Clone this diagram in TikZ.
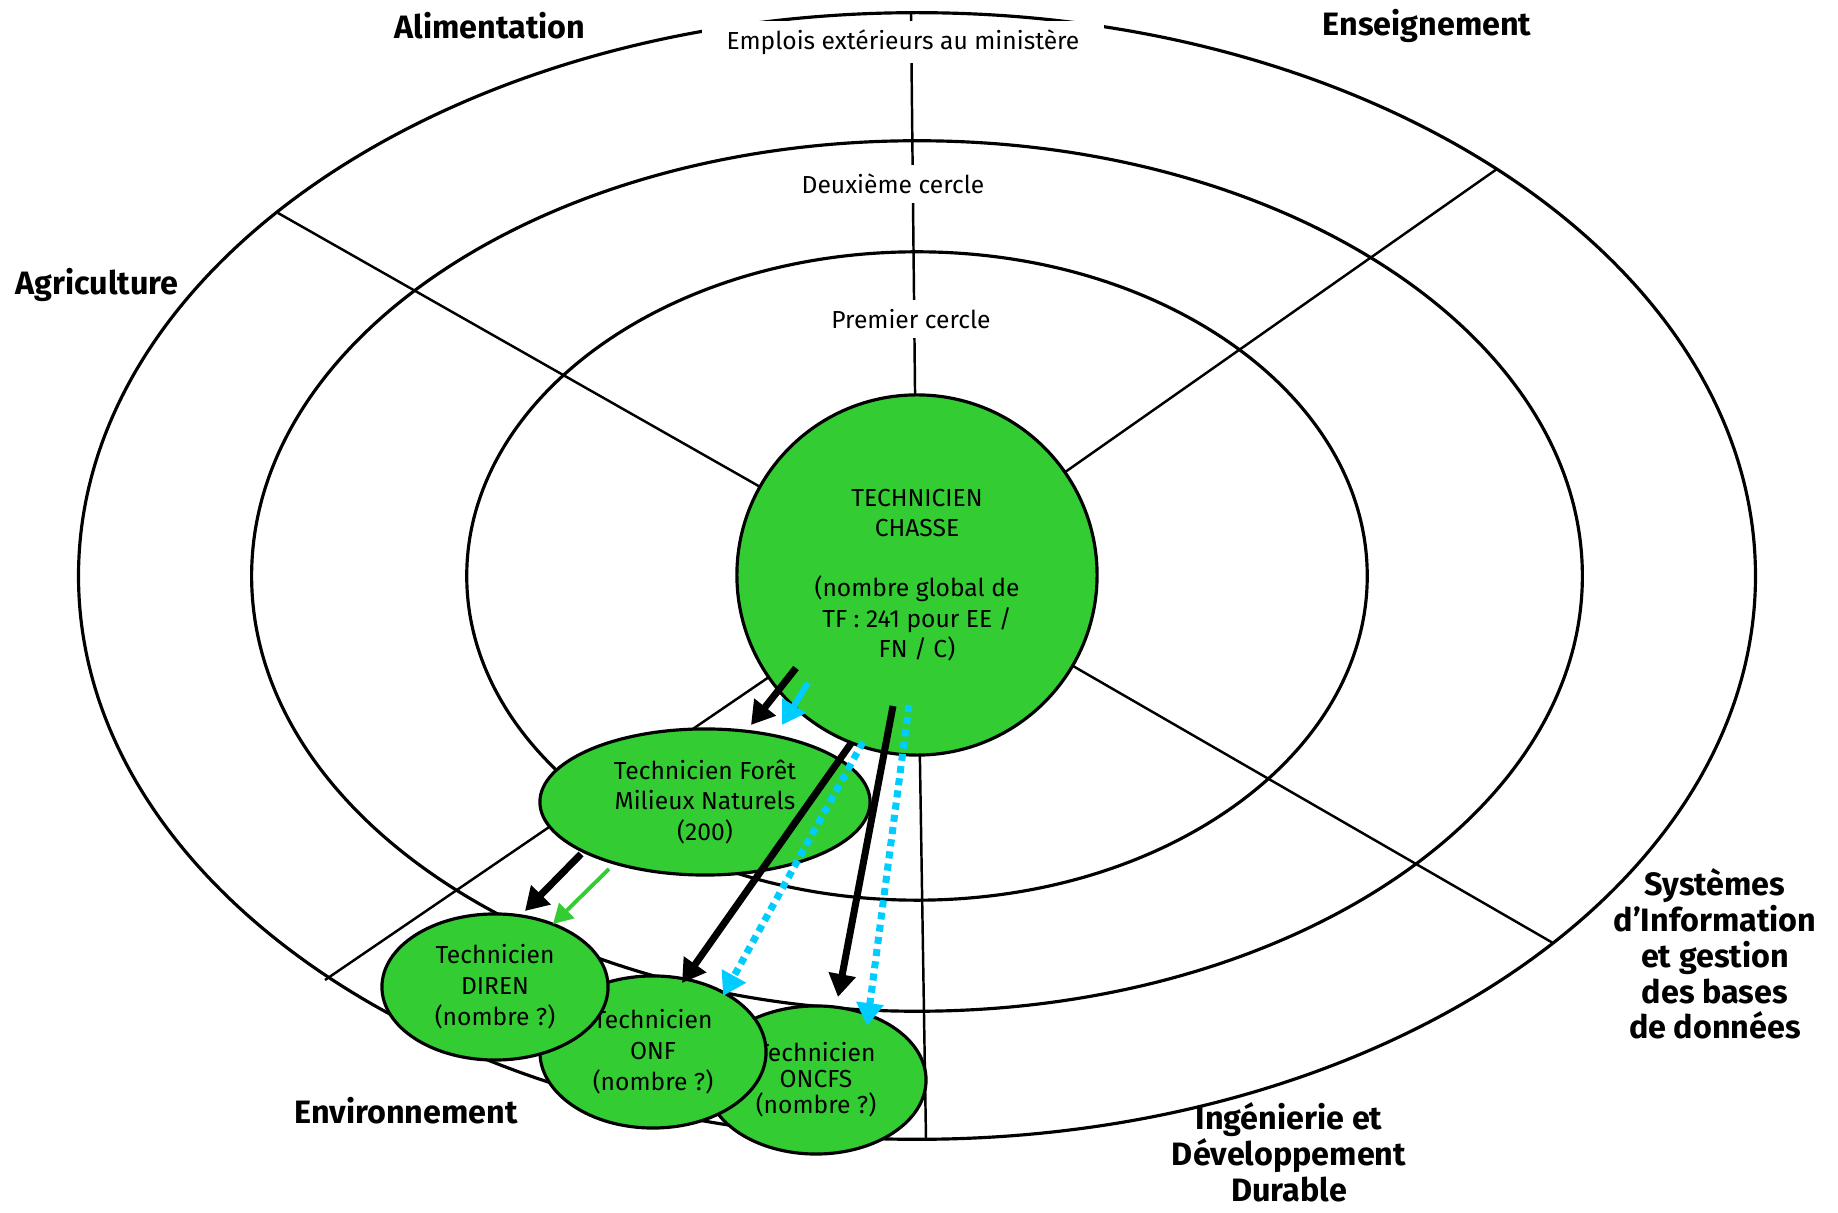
\documentclass[tikz,border=0pt]{standalone}
\usepackage{fontspec}
\setmainfont{Fira Sans}
\usetikzlibrary{arrows.meta,shapes.geometric,calc}
\definecolor{techgreen}{RGB}{51,204,51}
\definecolor{skycyan}{RGB}{0,204,255}
\tikzset{
  ring/.style={line width=0.9pt},
  spoke/.style={line width=0.7pt},
  circlbl/.style={fill=white, inner xsep=7pt, inner ysep=2.5pt, font=\fontsize{7}{8.4}\selectfont},
  sectlbl/.style={align=center, font=\fontsize{9.2}{10.2}\selectfont\bfseries},
  tech/.style={draw, ellipse, fill=techgreen, line width=0.9pt, inner sep=0pt, align=center, font=\fontsize{7}{8.8}\selectfont},
  blkarr/.style={-{Triangle[length=6.5pt,width=7.5pt]}, line width=2pt},
  cyarr/.style={-{Triangle[length=6.5pt,width=7.5pt]}, line width=1.7pt, skycyan},
  cydot/.style={-{Triangle[length=6.5pt,width=7.5pt]}, line width=2pt, skycyan, dash pattern=on 2pt off 1.5pt},
  grarr/.style={-{Triangle[length=5.5pt,width=6pt]}, line width=1.1pt, techgreen},
}
\begin{document}
\begin{tikzpicture}[x=0.01cm, y=-0.01cm]
\useasboundingbox (0,0) rectangle (1838,1213);

\coordinate (ctr) at (917,576);
\draw[ring] (ctr) ellipse [x radius=8.38cm, y radius=5.63cm];
\draw[ring] (ctr) ellipse [x radius=6.65cm, y radius=4.35cm];
\draw[ring] (ctr) ellipse [x radius=4.5cm, y radius=3.24cm];

% domain borders
\foreach \ex/\ey in {911/14, 1497/169, 1553/943, 926/1139, 325/980, 278/213}
  \draw[spoke] (ctr) -- (\ex,\ey);

\node[circlbl] (emplois) at (903,42) {Emplois extérieurs au ministère};
\node[circlbl] (cercle2) at (893,184) {Deuxième cercle};
\node[circlbl] (cercle1) at (911,319) {Premier cercle};

\node[tech, circle, minimum size=3.6cm, font=\fontsize{7}{8.6}\selectfont] (chasse) at (917,575)
  {TECHNICIEN\\CHASSE\\[8.6pt](nombre global de\\TF : 241 pour EE /\\FN / C)};
\node[tech, minimum width=3.3cm, minimum height=1.46cm] (foret) at (705,802)
  {Technicien Forêt\\Milieux Naturels\\(200)};
\node[tech, minimum width=2.2cm, minimum height=1.48cm, font=\fontsize{7}{7.4}\selectfont] (oncfs) at (816,1080)
  {Technicien\\ONCFS\\(nombre ?)};
\node[tech, minimum width=2.26cm, minimum height=1.52cm] (onf) at (653,1052)
  {Technicien\\ONF\\(nombre ?)};
\node[tech, minimum width=2.26cm, minimum height=1.46cm] (diren) at (495,987)
  {Technicien\\DIREN\\(nombre ?)};

\draw[blkarr] ($(chasse)+(-121,93)$) -- ($(foret)+(46,-77)$);
\draw[cyarr] ($(chasse)+(-109,108)$) -- ($(foret)+(77,-77)$);
\draw[blkarr] ($(chasse)+(-65,167)$) -- ($(onf)+(29,-69)$);
\draw[cydot] ($(chasse)+(-54,167)$) -- ($(onf)+(70,-56)$);
\draw[blkarr] ($(chasse)+(-24,131)$) -- ($(oncfs)+(22,-83)$);
\draw[cydot] ($(chasse)+(-8,130)$) -- ($(oncfs)+(51,-54)$);
\draw[blkarr] ($(foret)+(-124,52)$) -- ($(diren)+(30,-76)$);
\draw[grarr] ($(foret)+(-96,67)$) -- ($(diren)+(58,-63)$);

\node[sectlbl] (alim) at (490,26) {Alimentation};
\node[sectlbl] (enseig) at (1427,26) {Enseignement};
\node[sectlbl] (agri) at (97,285) {Agriculture};
\node[sectlbl] (sig) at (1715,954) {Systèmes\\d’Information\\et gestion\\des bases\\de données};
\node[sectlbl] (ingen) at (1289,1152) {Ingénierie et\\Développement\\Durable};
\node[sectlbl] (envir) at (406,1111) {Environnement};
\end{tikzpicture}
\end{document}
